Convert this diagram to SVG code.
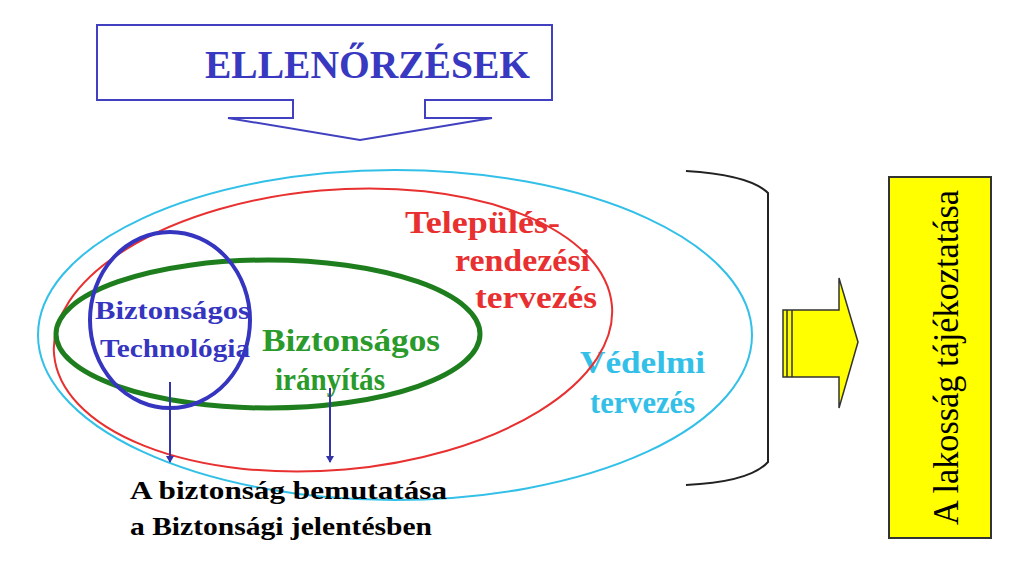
<svg xmlns="http://www.w3.org/2000/svg" width="1023" height="579" viewBox="0 0 1023 579">
<style>
.t{font-family:"Liberation Serif",serif;font-weight:bold}
</style>
<defs><marker id="ah" markerWidth="8" markerHeight="8" refX="6" refY="4" orient="auto" markerUnits="userSpaceOnUse"><path d="M0,0L7,4L0,8z" fill="#3333aa"/></marker></defs>
<rect width="1023" height="579" fill="#fff"/>
<g id="ellenorzesek">
<path d="M97,25H552V100H425V118H492L360,140L228,118H293V100H97Z" fill="#fff" stroke="#4040c0" stroke-width="2"/>
<text class="t" x="205" y="78" font-size="40" fill="#3838c0" textLength="325" lengthAdjust="spacingAndGlyphs">ELLENŐRZÉSEK</text>
</g>
<g id="vedelmi">
<ellipse cx="395" cy="335" rx="357" ry="165" fill="none" stroke="#33c0e8" stroke-width="2"/>
<text class="t" x="580" y="373" font-size="32" fill="#33c0e8" textLength="125" lengthAdjust="spacingAndGlyphs">Védelmi</text>
<text class="t" x="590" y="413" font-size="32" fill="#33c0e8" textLength="105" lengthAdjust="spacingAndGlyphs">tervezés</text>
</g>
<g id="telepules">
<ellipse cx="333" cy="330" rx="280" ry="140" transform="rotate(-5 333 330)" fill="none" stroke="#e83030" stroke-width="2"/>
<text class="t" x="405" y="233" font-size="32" fill="#e83030" textLength="155" lengthAdjust="spacingAndGlyphs">Település-</text>
<text class="t" x="455" y="271" font-size="32" fill="#e83030" textLength="135" lengthAdjust="spacingAndGlyphs">rendezési</text>
<text class="t" x="475" y="308" font-size="32" fill="#e83030" textLength="122" lengthAdjust="spacingAndGlyphs">tervezés</text>
</g>
<g id="iranyitas">
<ellipse cx="268" cy="334" rx="212" ry="74" fill="none" stroke="#1e7e1e" stroke-width="5"/>
<text class="t" x="262" y="351" font-size="32" fill="#2a9a2a" textLength="178" lengthAdjust="spacingAndGlyphs">Biztonságos</text>
<text class="t" x="275" y="390" font-size="32" fill="#2a9a2a" textLength="110" lengthAdjust="spacingAndGlyphs">irányítás</text>
</g>
<g id="technologia">
<ellipse cx="170" cy="320" rx="80" ry="88" fill="none" stroke="#3535c0" stroke-width="4"/>
<text class="t" x="95" y="319" font-size="26" fill="#3535c0" textLength="155" lengthAdjust="spacingAndGlyphs">Biztonságos</text>
<text class="t" x="100" y="357" font-size="26" fill="#3535c0" textLength="150" lengthAdjust="spacingAndGlyphs">Technológia</text>
</g>
<g id="bemutatas">
<text class="t" x="130" y="499" font-size="25" fill="#000" textLength="317" lengthAdjust="spacingAndGlyphs">A biztonság bemutatása</text>
<text class="t" x="130" y="535" font-size="25" fill="#000" textLength="302" lengthAdjust="spacingAndGlyphs">a Biztonsági jelentésben</text>
</g>
<g id="connectors">
<line x1="170" y1="382" x2="170" y2="462" stroke="#3333aa" stroke-width="2" marker-end="url(#ah)"/>
<line x1="330" y1="388" x2="330" y2="462" stroke="#3333aa" stroke-width="2" marker-end="url(#ah)"/>
<path d="M686,171Q750,175 768,193V462Q750,482 686,485" fill="none" stroke="#222" stroke-width="2"/>
<path d="M783,310H839V278L858,342L839,408V377H783Z" fill="#ffff00" stroke="#333" stroke-width="1.5"/>
<path d="M787,310V377M792,310V377" stroke="#333" stroke-width="1.5"/>
</g>
<g id="lakossag">
<rect x="889" y="177" width="102" height="361" fill="#ffff00" stroke="#333" stroke-width="2"/>
<text x="0" y="0" transform="translate(958,525) rotate(-90)" font-family="Liberation Serif,serif" font-size="35" fill="#000" textLength="335" lengthAdjust="spacingAndGlyphs">A lakosság tájékoztatása</text>
</g>
</svg>
